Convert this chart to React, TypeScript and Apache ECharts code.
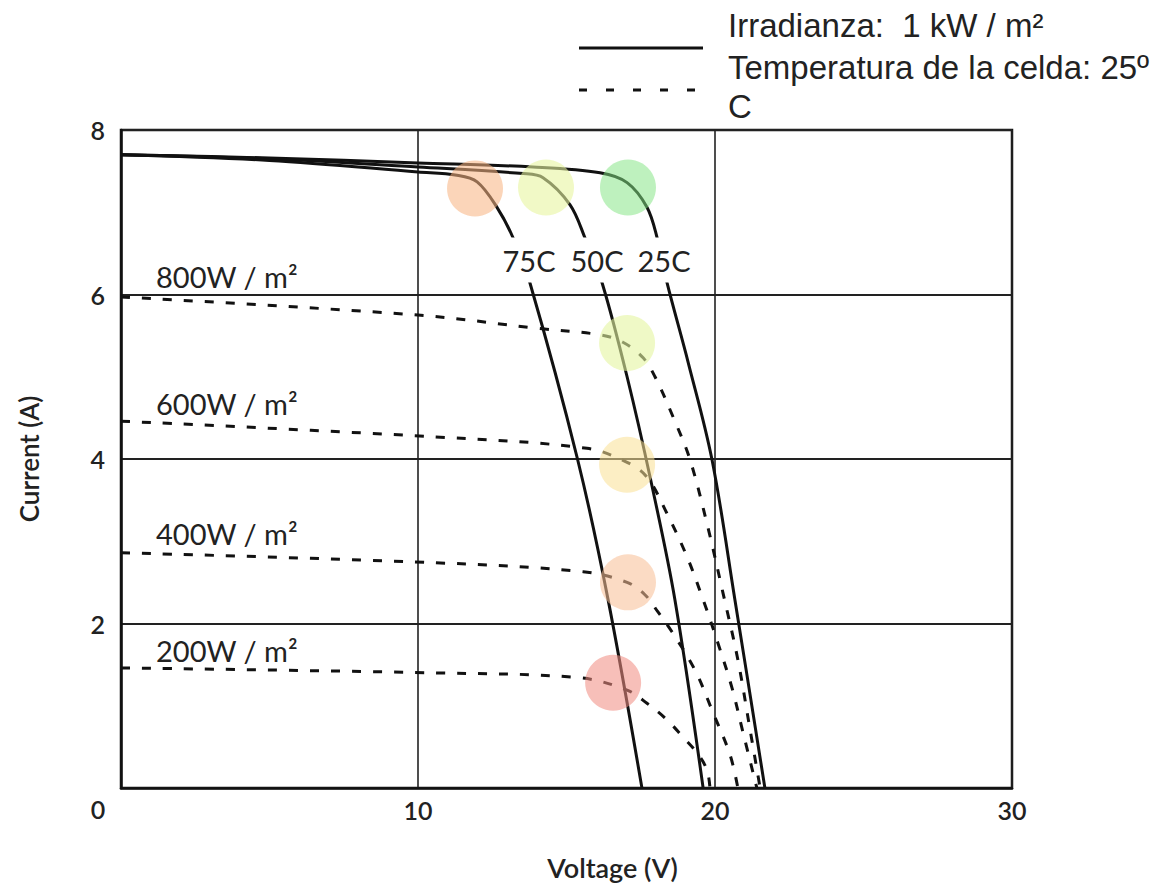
import React, { useEffect, useRef } from "react";
import * as echarts from "echarts";

// Axis ticks
const xTicks = [0, 10, 20, 30];
const yTicks = [0, 2, 4, 6, 8];

// 1 kW/m² curves at three cell temperatures [V, A]
const temp25 = [[0, 7.7], [5, 7.66], [10, 7.6], [13.87, 7.55], [16.13, 7.48], [17.04, 7.36], [17.71, 7.06], [18.05, 6.69], [18.38, 6.15], [19.1, 5.17], [19.9, 3.99], [20.67, 2.29], [21.68, 0]];
const temp50 = [[0, 7.7], [5, 7.65], [10, 7.55], [13.54, 7.47], [14.21, 7.42], [15.12, 7.09], [15.62, 6.69], [16.2, 6.14], [17.04, 5.0], [17.85, 3.72], [18.65, 2.29], [19.6, 0]];
const temp75 = [[0, 7.7], [5, 7.63], [10, 7.49], [11.31, 7.45], [11.99, 7.37], [12.66, 7.06], [13.2, 6.69], [13.77, 6.14], [15.37, 4.0], [16.4, 2.29], [17.54, 0]];

// Irradiance curves at 25 °C [V, A]
const irr800 = [[0, 5.97], [10, 5.75], [14.0, 5.59], [16.13, 5.51], [16.9, 5.42], [17.58, 5.23], [17.98, 5.0], [18.59, 4.51], [19.16, 3.99], [19.76, 3.17], [20.27, 2.37], [20.77, 1.56], [21.18, 0.71], [21.52, 0]];
const irr600 = [[0, 4.46], [10.5, 4.27], [15.69, 4.13], [17.04, 3.96], [17.71, 3.78], [18.38, 3.34], [19.06, 2.81], [19.6, 2.29], [20.1, 1.76], [20.57, 1.22], [20.94, 0.68], [21.41, 0]];
const irr400 = [[0, 2.86], [10.5, 2.74], [15.56, 2.63], [17.04, 2.5], [17.64, 2.35], [18.08, 2.14], [18.55, 1.9], [19.33, 1.43], [19.93, 0.92], [20.51, 0.4], [20.77, 0]];
const irr200 = [[0, 1.46], [10.5, 1.4], [15.45, 1.34], [17.04, 1.19], [17.71, 1.03], [18.38, 0.83], [18.92, 0.62], [19.39, 0.43], [19.73, 0.22], [19.83, 0]];

// Maximum power point highlights
const spots = [[11.92, 7.29], [14.31, 7.3], [17.07, 7.3], [17.04, 5.41], [17.04, 3.93], [17.07, 2.5], [16.57, 1.28]];
const spotColors = [
  "rgba(247,180,130,0.7)",
  "rgba(232,245,160,0.75)",
  "rgba(130,228,130,0.65)",
  "rgba(228,245,160,0.75)",
  "rgba(250,225,150,0.7)",
  "rgba(248,190,150,0.7)",
  "rgba(240,140,130,0.7)",
];

const tempLabels = ["75C", "50C", "25C"];
const irrLabels = ["800W / m²", "600W / m²", "400W / m²", "200W / m²"];
const legendLines = ["Irradianza:  1 kW / m²", "Temperatura de la celda: 25º", "C"];

export default function App() {
  const ref = useRef<HTMLDivElement>(null);
  useEffect(() => {
    const chart = echarts.init(ref.current!, null, { renderer: "svg" });
    const font = "Lato, 'DejaVu Sans', sans-serif";
    const solid = (name: string, data: number[][]) => ({
      type: "line", name, data, smooth: 0.35, symbol: "none", z: 3,
      lineStyle: { color: "#111", width: 3 },
    });
    const dotted = (name: string, data: number[][]) => ({
      type: "line", name, data, smooth: 0.35, symbol: "none", z: 3,
      lineStyle: { color: "#111", width: 3, type: [9, 12] },
    });
    const annoStyle = { font: `29px ${font}`, fill: "#222" };
    chart.setOption({
      animation: false,
      backgroundColor: "#fff",
      grid: { left: 121, top: 130, right: 146, bottom: 98, show: true, borderColor: "#111", borderWidth: 2.5 },
      xAxis: {
        type: "value", min: xTicks[0], max: xTicks[xTicks.length - 1], interval: 10,
        name: "Voltage (V)", nameLocation: "middle", nameGap: 66,
        nameTextStyle: { fontFamily: font, fontSize: 27, fontWeight: 600, color: "#222", padding: [0, 0, 0, 92] },
        axisLine: { show: true, lineStyle: { color: "#111", width: 2.5 } },
        axisTick: { show: false },
        axisLabel: { showMinLabel: false, margin: 9, fontFamily: font, fontSize: 25, fontWeight: 600, color: "#222" },
        splitLine: { show: true, lineStyle: { color: "#222", width: 1.6 } },
      },
      yAxis: {
        type: "value", min: yTicks[0], max: yTicks[yTicks.length - 1], interval: 2,
        name: "Current (A)", nameLocation: "middle", nameGap: 79,
        nameTextStyle: { fontFamily: font, fontSize: 26, fontWeight: 600, color: "#222" },
        axisLine: { show: true, lineStyle: { color: "#111", width: 2.5 } },
        axisTick: { show: false },
        axisLabel: { showMinLabel: false, margin: 16, fontFamily: font, fontSize: 25, fontWeight: 600, color: "#222" },
        splitLine: { show: true, lineStyle: { color: "#222", width: 2 } },
      },
      series: [
        solid("25C", temp25),
        solid("50C", temp50),
        solid("75C", temp75),
        dotted("800", irr800),
        dotted("600", irr600),
        dotted("400", irr400),
        dotted("200", irr200),
        {
          type: "scatter", symbolSize: 56, z: 4,
          data: spots.map((p, i) => ({ value: p, itemStyle: { color: spotColors[i] } })),
        },
      ],
      graphic: [
        { type: "text", x: 98, y: 809, z: 10, style: { text: String(xTicks[0]), font: `600 25px ${font}`, fill: "#222", align: "center", verticalAlign: "middle" } },
        ...tempLabels.map((t, i) => ({
          type: "text", x: [529, 597, 664][i], y: 260, z: 10,
          style: { text: t, font: `29px ${font}`, fill: "#222", align: "center", verticalAlign: "middle", backgroundColor: "#fff", padding: [8, 2] },
        })),
        ...irrLabels.map((t, i) => ({
          type: "text", x: 156, y: [276, 403, 533, 650][i], z: 10,
          style: { ...annoStyle, text: t, verticalAlign: "middle" },
        })),
        { type: "line", z: 10, shape: { x1: 579, y1: 48, x2: 703, y2: 48 }, style: { stroke: "#111", lineWidth: 3 } },
        { type: "line", z: 10, shape: { x1: 579, y1: 90, x2: 703, y2: 90 }, style: { stroke: "#111", lineWidth: 3, lineDash: [8, 19] } },
        ...legendLines.map((t, i) => ({
          type: "text", x: 728, y: [25, 67, 106][i], z: 10,
          style: { text: t, font: "33px 'Liberation Sans', Arial, sans-serif", fill: "#222", verticalAlign: "middle" },
        })),
      ],
    });
    return () => chart.dispose();
  }, []);
  return <div ref={ref} style={{ position: "fixed", left: 0, top: 0, width: 1158, height: 886 }} />;
}
